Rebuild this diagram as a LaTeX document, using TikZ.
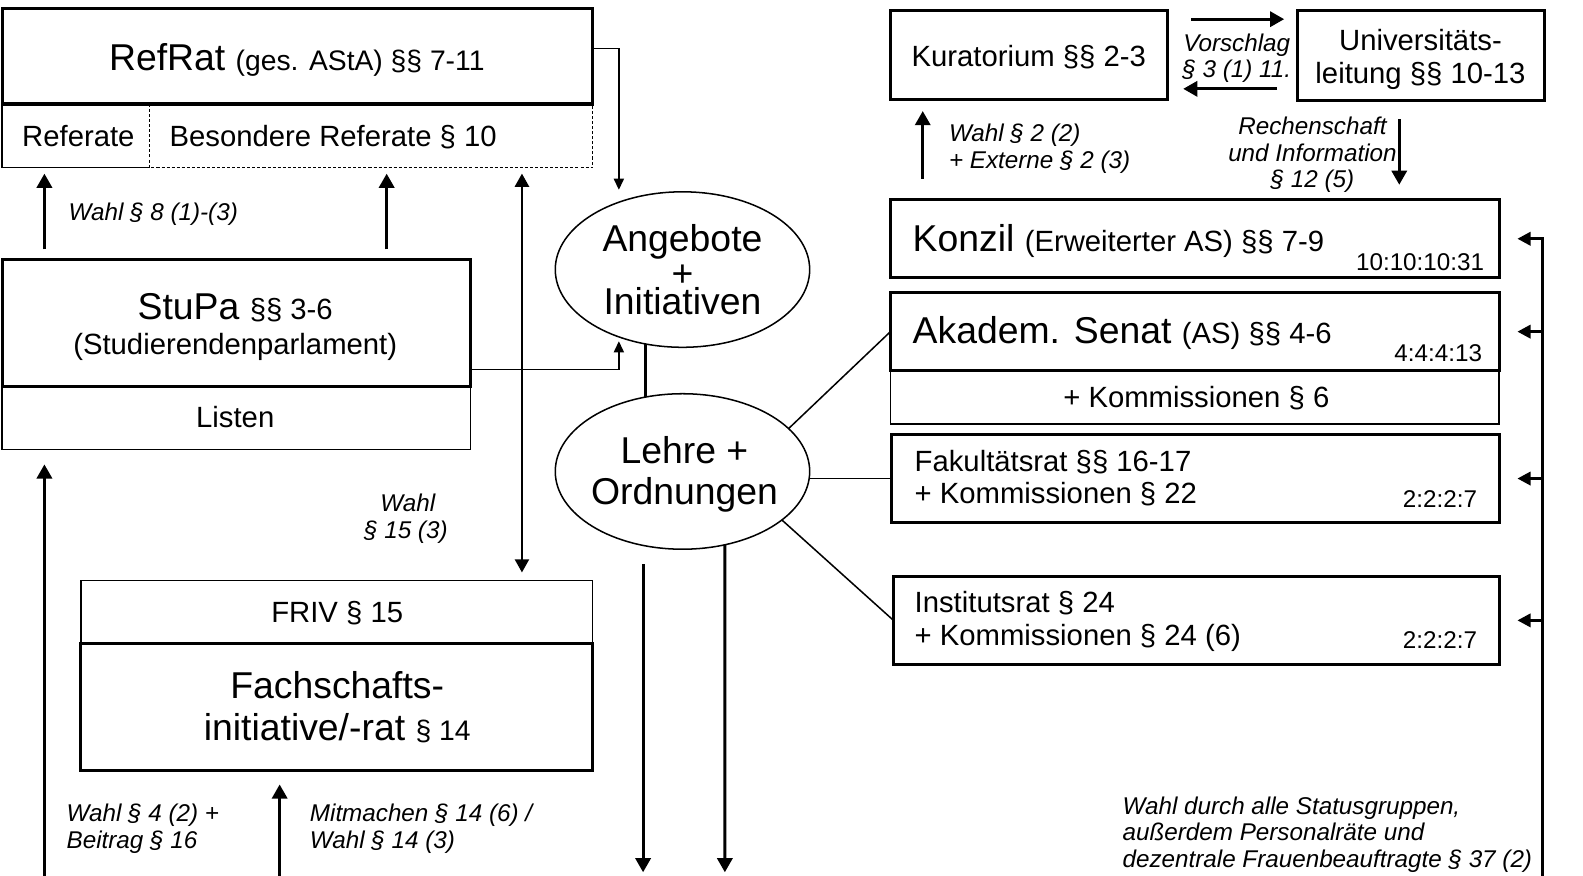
\documentclass[tikz,border=0pt]{standalone}
\usepackage{fontspec}
\setmainfont{Liberation Sans}
\usetikzlibrary{arrows.meta,calc,shapes.geometric}
\newcommand\fs[1]{\fontsize{#1}{#1}\selectfont}
\begin{document}
\begin{tikzpicture}[x=1pt,y=-1pt,
 every node/.style={inner sep=0pt,outer sep=0pt},
 boxthick/.style={draw,line width=3pt,anchor=north west},
 boxthin/.style={draw,line width=1.5pt,anchor=north west},
 oval/.style={draw,ellipse,line width=1.5pt,minimum width=252pt,minimum height=154pt},
 tn/.style={font=\fs{29},anchor=base},
 tl/.style={font=\fs{29},anchor=base west},
 tr/.style={font=\fs{24},anchor=base east},
 tb/.style={font=\fs{37},anchor=base},
 lab/.style={font=\itshape\fs{24},anchor=base west},
 labc/.style={font=\itshape\fs{24},anchor=base},
 fat/.style={line width=3pt},
 fatarrow/.style={line width=3pt,-{Triangle[length=14pt,width=15pt]}},
 stubarrow/.style={line width=3pt,-{Triangle[length=13pt,width=13pt]}},
 midarrow/.style={line width=2pt,{Triangle[length=13pt,width=14pt]}-{Triangle[length=13pt,width=14pt]}},
 thinarrow/.style={line width=1.5pt,-{Triangle[length=11pt,width=10pt]}},
 conn/.style={line width=1.5pt},
 dotline/.style={line width=1pt,dash pattern=on 3pt off 2pt},
]
\useasboundingbox (0,0) rectangle (1568,867);

% ---------- left column ----------
\node[anchor=north west,minimum width=585pt,minimum height=63pt] (refsub) at (2,103) {};
\coordinate (div) at (148,103);
\draw[conn] (refsub.north west) -- (refsub.south west) -- (refsub.south west -| div);
\draw[dotline] (div) -- (div |- refsub.south) -- (refsub.south east) -- (refsub.north east);
\node[boxthick,minimum width=585pt,minimum height=95pt] (refrat) at (2,8) {};

\node[boxthin,minimum width=464pt,minimum height=62pt] (listen) at (2,383) {};
\node[boxthick,minimum width=464pt,minimum height=126pt] (stupa) at (2,257) {};

\node[boxthin,minimum width=507pt,minimum height=62pt] (friv) at (80,575) {};
\node[boxthick,minimum width=507pt,minimum height=126pt] (fach) at (80,637) {};

% ---------- ellipses ----------
\node[oval] (ange) at (676,267) {};
\node[oval] (lehre) at (676,467) {};

% ---------- right column ----------
\node[boxthick,minimum width=274pt,minimum height=89pt] (kur) at (882,10) {};
\node[boxthick,minimum width=245pt,minimum height=90pt] (uni) at (1285,10) {};
\node[boxthick,minimum width=603pt,minimum height=77pt] (konzil) at (882,198) {};
\node[boxthin,minimum width=603pt,minimum height=53pt] (komm) at (882,367) {};
\node[boxthick,minimum width=603pt,minimum height=77pt] (senat) at (882,290) {};
\node[boxthick,minimum width=602pt,minimum height=88pt] (fak) at (883,430) {};
\node[boxthick,minimum width=600pt,minimum height=87pt] (inst) at (885,571) {};

% ---------- texts in boxes ----------
\node[anchor=base] (tRefRat) at (294,69.5) {\fs{37}RefRat \fs{28}(ges. AStA) §§ 7-11};
\node[tl] (tRef) at (22,145.5) {Referate};
\node[tl] (tBes) at (168,145.5) {Besondere Referate § 10};
\node[anchor=base] (tStuPa) at (233,316) {\fs{37}StuPa \fs{29}§§ 3-6};
\node[tn] (tStud) at (233,351) {(Studierendenparlament)};
\node[tn] (tListen) at (233,423) {Listen};
\node[tn] (tFriv) at (334,617) {FRIV § 15};
\node[tb] (tFach1) at (334,692) {Fachschafts-};
\node[tb] (tFach2) at (334,733) {initiative/-rat \fs{28}§ 14};

\node[tb] (tAng1) at (676,249.5) {Angebote};
\node[tb] (tAng2) at (676,283.5) {+};
\node[tb] (tAng3) at (676,312) {Initiativen};
\node[tb] (tLeh1) at (678,459) {Lehre +};
\node[tb] (tLeh2) at (678,499.5) {Ordnungen};

\node[tn] (tKur) at (1019,65.5) {Kuratorium §§ 2-3};
\node[tn] (tUni1) at (1407,50.5) {Universitäts-};
\node[tn] (tUni2) at (1407,82.5) {leitung §§ 10-13};
\node[tl] (tKonzil) at (904,249.5) {\fs{37}Konzil \fs{29}(Erweiterter AS) §§ 7-9};
\node[tr] (rKonzil) at (1470,267.5) {10:10:10:31};
\node[tl] (tSenat) at (904,340) {\fs{37}Akadem. Senat \fs{29}(AS) §§ 4-6};
\node[tr] (rSenat) at (1468,358) {4:4:4:13};
\node[tn] (tKomm) at (1185,404) {+ Kommissionen § 6};
\node[tl] (tFak1) at (906,467) {Fakultätsrat §§ 16-17};
\node[tl] (tFak2) at (906,499) {+ Kommissionen § 22};
\node[tr] (rFak) at (1463,503) {2:2:2:7};
\node[tl] (tInst1) at (906,607) {Institutsrat § 24};
\node[tl] (tInst2) at (906,639) {+ Kommissionen § 24 (6)};
\node[tr] (rInst) at (1463,642) {2:2:2:7};

% ---------- labels ----------
\node[lab] (lW8) at (68,218.5) {Wahl § 8 (1)-(3)};
\node[labc] (lW15a) at (404,507) {Wahl};
\node[labc] (lW15b) at (402,533) {§ 15 (3)};
\node[lab] (lW4a) at (66,814) {Wahl § 4 (2) +};
\node[lab] (lW4b) at (66,840) {Beitrag § 16};
\node[lab] (lM1) at (307,814) {Mitmachen § 14 (6) /};
\node[lab] (lM2) at (307,840) {Wahl § 14 (3)};
\node[labc] (lV1) at (1225,51) {Vorschlag};
\node[labc] (lV2) at (1225,77) {§ 3 (1) 11.};
\node[lab] (lW2a) at (940,140) {Wahl § 2 (2)};
\node[lab] (lW2b) at (940,167) {+ Externe § 2 (3)};
\node[labc] (lR1) at (1300,133) {Rechenschaft};
\node[labc] (lR2) at (1300,160) {und Information};
\node[labc] (lR3) at (1300,186) {§ 12 (5)};
\node[lab] (lS1) at (1112,807) {Wahl durch alle Statusgruppen,};
\node[lab] (lS2) at (1112,833) {außerdem Personalräte und};
\node[lab] (lS3) at (1112,859) {dezentrale Frauenbeauftragte § 37 (2)};

% ---------- connectors left ----------
\draw[fatarrow] ([xshift=42pt,yshift=10pt]stupa.north west) -- ([xshift=42pt,yshift=-6pt]refsub.south west);
\draw[fatarrow] ([xshift=381pt,yshift=10pt]stupa.north west) -- ([xshift=381pt,yshift=-6pt]refsub.south west);
\draw[midarrow] ([xshift=515pt,yshift=-6pt]refsub.south west) -- ([xshift=437pt,yshift=8pt]friv.north west);
\draw[thinarrow] ([yshift=7.5pt]refrat.east) -| ($(ange.north)+(-63,-2)$);
\draw[thinarrow] ([yshift=-46pt]stupa.east) -| ($(ange.south)+(-63,-6)$);
\draw[fat] ($(ange.south)+(-37,-3)$) -- ($(lehre.north)+(-37,3)$);

\coordinate (lb1) at (44,868);
\coordinate (lb2) at (277,868);
\draw[fatarrow] (lb1) -- ([xshift=42pt,yshift=-15pt]listen.south west);
\draw[fatarrow] (lb2) -- ([xshift=197pt,yshift=-14pt]fach.south west);

\coordinate (ld1) at (637,864);
\coordinate (ld2) at (718,864);
\draw[fatarrow] ($(lehre.south)+(-39,15)$) -- (ld1);
\draw[fatarrow] (lehre.-60) -- (ld2);

\draw[conn] (lehre.22) -- (senat.west);
\draw[conn] (lehre.east |- fak.west) -- (fak.west);
\draw[conn] (lehre.-26) -- (inst.west);

% ---------- connectors right ----------
\draw[fatarrow] ([xshift=24pt,yshift=-9pt]kur.north east) -- ([xshift=-13pt,yshift=-9pt]uni.north west);
\draw[fatarrow] ([xshift=-20pt,yshift=12pt]uni.south west) -- ([xshift=16pt,yshift=11pt]kur.south east);
\draw[fatarrow] ([xshift=32pt,yshift=21pt]konzil.north west) -- ([xshift=32pt,yshift=-11pt]kur.south west);
\draw[fatarrow] ([xshift=101pt,yshift=-18pt]uni.south west) -- ([xshift=504pt,yshift=15pt]konzil.north west);

\coordinate (rvtop) at (1528,235);
\coordinate (rvbot) at (1528,868);
\draw[fat] (rvtop) -- (rvbot);
\draw[stubarrow] (konzil.east -| rvtop) -- ([xshift=18pt]konzil.east);
\draw[stubarrow] (senat.east -| rvtop) -- ([xshift=18pt]senat.east);
\draw[stubarrow] (fak.east -| rvtop) -- ([xshift=18pt]fak.east);
\draw[stubarrow] (inst.east -| rvtop) -- ([xshift=18pt]inst.east);
\end{tikzpicture}
\end{document}
